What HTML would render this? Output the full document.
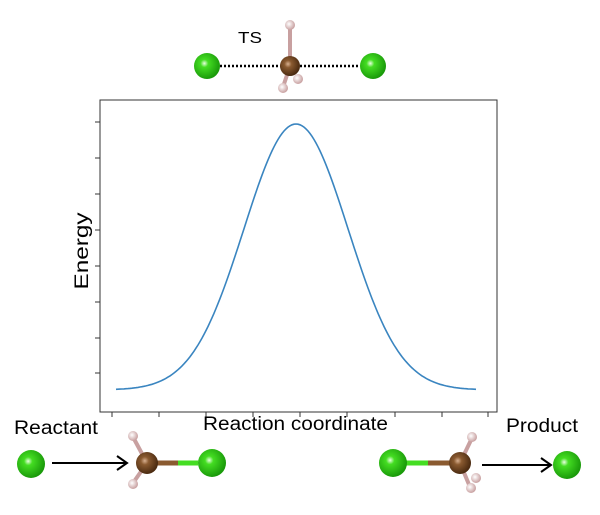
<!DOCTYPE html>
<html><head><style>body{margin:0;background:#fff}svg{display:block}text{font-family:"Liberation Sans",sans-serif;fill:#000}</style></head><body>
<svg width="600" height="515" viewBox="0 0 600 515">
<defs>
<radialGradient id="cl" cx="40%" cy="40%" r="60%"><stop offset="0" stop-color="#e8ffe0"/><stop offset="0.25" stop-color="#44dd22"/><stop offset="1" stop-color="#1a9a0a"/></radialGradient>
<radialGradient id="c" cx="40%" cy="40%" r="60%"><stop offset="0" stop-color="#d8b090"/><stop offset="0.3" stop-color="#8a5a30"/><stop offset="1" stop-color="#4a2a10"/></radialGradient>
<radialGradient id="h" cx="40%" cy="40%" r="60%"><stop offset="0" stop-color="#fff"/><stop offset="1" stop-color="#c8a0a0"/></radialGradient>
</defs>
<rect x="100" y="100" width="397" height="312" fill="none" stroke="#333" stroke-width="1"/>
<g stroke="#333" stroke-width="1">
<path d="M112 412v5M159 412v5M206 412v5M253 412v5M300 412v5M347 412v5M395 412v5M442 412v5M488 412v5"/>
<path d="M100 122h-5M100 158h-5M100 194h-5M100 230h-5M100 266h-5M100 302h-5M100 338h-5M100 373h-5"/>
</g>
<polyline fill="none" stroke="#3a85c0" stroke-width="1.6" id="cv"/>
<text x="88" y="251" font-size="19" transform="rotate(-90 88 251)" text-anchor="middle" textLength="77" lengthAdjust="spacingAndGlyphs">Energy</text>
<text x="203" y="430" font-size="19" textLength="185" lengthAdjust="spacingAndGlyphs">Reaction coordinate</text>
<text x="14" y="434" font-size="19" textLength="84" lengthAdjust="spacingAndGlyphs">Reactant</text>
<text x="506" y="432" font-size="19" textLength="72" lengthAdjust="spacingAndGlyphs">Product</text>
<text x="238" y="43" font-size="16" textLength="24" lengthAdjust="spacingAndGlyphs">TS</text>
<!-- TS -->
<line x1="220" y1="66" x2="358" y2="66" stroke="#000" stroke-width="2.5" stroke-dasharray="2,2"/>
<line x1="290" y1="66" x2="290" y2="27" stroke="#c8a0a0" stroke-width="4"/>
<line x1="290" y1="66" x2="283" y2="87" stroke="#c8a0a0" stroke-width="4"/>
<circle cx="298" cy="79" r="5" fill="url(#h)"/>
<circle cx="290" cy="66" r="10" fill="url(#c)"/>
<circle cx="290" cy="25" r="5" fill="url(#h)"/>
<circle cx="283" cy="88" r="5" fill="url(#h)"/>
<circle cx="207" cy="66" r="13" fill="url(#cl)"/>
<circle cx="373" cy="66" r="13" fill="url(#cl)"/>
<!-- reactant -->
<circle cx="31" cy="464" r="14" fill="url(#cl)"/>
<line x1="52" y1="463" x2="126" y2="463" stroke="#000" stroke-width="2"/>
<path d="M117 456l10 7-10 7" fill="none" stroke="#000" stroke-width="2"/>
<line x1="147" y1="463" x2="198" y2="463" stroke="#8a5a30" stroke-width="5"/>
<line x1="178" y1="463" x2="198" y2="463" stroke="#44dd22" stroke-width="5"/>
<line x1="147" y1="463" x2="133" y2="437" stroke="#c8a0a0" stroke-width="4"/>
<line x1="147" y1="463" x2="133" y2="483" stroke="#c8a0a0" stroke-width="4"/>
<circle cx="147" cy="463" r="11" fill="url(#c)"/>
<circle cx="133" cy="436" r="5" fill="url(#h)"/>
<circle cx="133" cy="484" r="5" fill="url(#h)"/>
<circle cx="212" cy="463" r="14" fill="url(#cl)"/>
<!-- product -->
<line x1="393" y1="463" x2="460" y2="463" stroke="#8a5a30" stroke-width="5"/>
<line x1="393" y1="463" x2="428" y2="463" stroke="#44dd22" stroke-width="5"/>
<line x1="460" y1="463" x2="472" y2="438" stroke="#c8a0a0" stroke-width="4"/>
<line x1="460" y1="463" x2="470" y2="487" stroke="#c8a0a0" stroke-width="4"/>
<circle cx="476" cy="478" r="5" fill="url(#h)"/>
<circle cx="393" cy="463" r="14" fill="url(#cl)"/>
<circle cx="460" cy="463" r="11" fill="url(#c)"/>
<circle cx="472" cy="437" r="5" fill="url(#h)"/>
<circle cx="471" cy="488" r="5" fill="url(#h)"/>
<line x1="482" y1="465" x2="550" y2="465" stroke="#000" stroke-width="2"/>
<path d="M541 458l10 7-10 7" fill="none" stroke="#000" stroke-width="2"/>
<circle cx="567" cy="465" r="14" fill="url(#cl)"/>
</svg>
<script>
var p=[];for(var x=116;x<=476;x+=2){var y=390-266*Math.exp(-Math.pow((x-296)/52,2)/2);p.push(x+","+y.toFixed(1));}
document.getElementById("cv").setAttribute("points",p.join(" "));
</script>
</body></html>
